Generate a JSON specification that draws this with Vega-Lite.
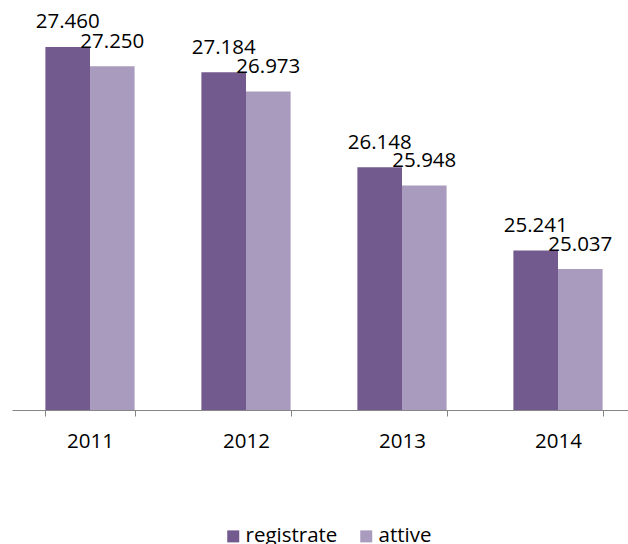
{
  "$schema": "https://vega.github.io/schema/vega-lite/v6.json",
  "width": 616,
  "height": 408,
  "autosize": {"type": "none"},
  "padding": {"left": 12, "top": 2, "right": 0, "bottom": 134},
  "config": {
    "view": {"stroke": null},
    "font": "Open Sans",
    "locale": {"number": {"decimal": ",", "thousands": ".", "grouping": [3], "currency": ["€", ""]}}
  },
  "data": {
    "values": [
      {"anno": "2011", "serie": "registrate", "valore": 27460},
      {"anno": "2011", "serie": "attive", "valore": 27250},
      {"anno": "2012", "serie": "registrate", "valore": 27184},
      {"anno": "2012", "serie": "attive", "valore": 26973},
      {"anno": "2013", "serie": "registrate", "valore": 26148},
      {"anno": "2013", "serie": "attive", "valore": 25948},
      {"anno": "2014", "serie": "registrate", "valore": 25241},
      {"anno": "2014", "serie": "attive", "valore": 25037}
    ]
  },
  "encoding": {
    "x": {
      "field": "anno",
      "type": "nominal",
      "scale": {"range": [0, 624], "paddingInner": 0.428, "paddingOuter": 0.214},
      "axis": {
        "title": null,
        "labelAngle": 0,
        "labelFontSize": 20.5,
        "labelColor": "#000000",
        "labelPadding": 15,
        "tickBand": "extent",
        "tickSize": 6,
        "tickColor": "#868686",
        "domainColor": "#868686",
        "domainWidth": 1,
        "tickWidth": 1
      }
    },
    "xOffset": {"field": "serie", "sort": ["registrate", "attive"], "scale": {"paddingInner": 0}},
    "y": {
      "field": "valore",
      "type": "quantitative",
      "scale": {"domain": [23500, 27950], "zero": false, "nice": false},
      "axis": null
    }
  },
  "layer": [
    {
      "mark": {"type": "bar", "clip": true},
      "encoding": {
        "color": {
          "field": "serie",
          "type": "nominal",
          "sort": ["registrate", "attive"],
          "scale": {"domain": ["registrate", "attive"], "range": ["#725A8F", "#A99BBE"]},
          "legend": {
            "title": null,
            "orient": "none",
            "direction": "horizontal",
            "legendX": 211,
            "legendY": 524,
            "padding": 0,
            "symbolType": "square",
            "symbolSize": 144,
            "symbolStrokeWidth": 0,
            "labelFontSize": 20.5,
            "labelColor": "#000000",
            "labelOffset": 2,
            "columnPadding": 18
          }
        }
      }
    },
    {
      "mark": {"type": "text", "baseline": "alphabetic", "dy": -18.5, "fontSize": 20.5, "color": "#000000"},
      "encoding": {"text": {"field": "valore", "type": "quantitative", "format": ",d"}}
    }
  ]
}
